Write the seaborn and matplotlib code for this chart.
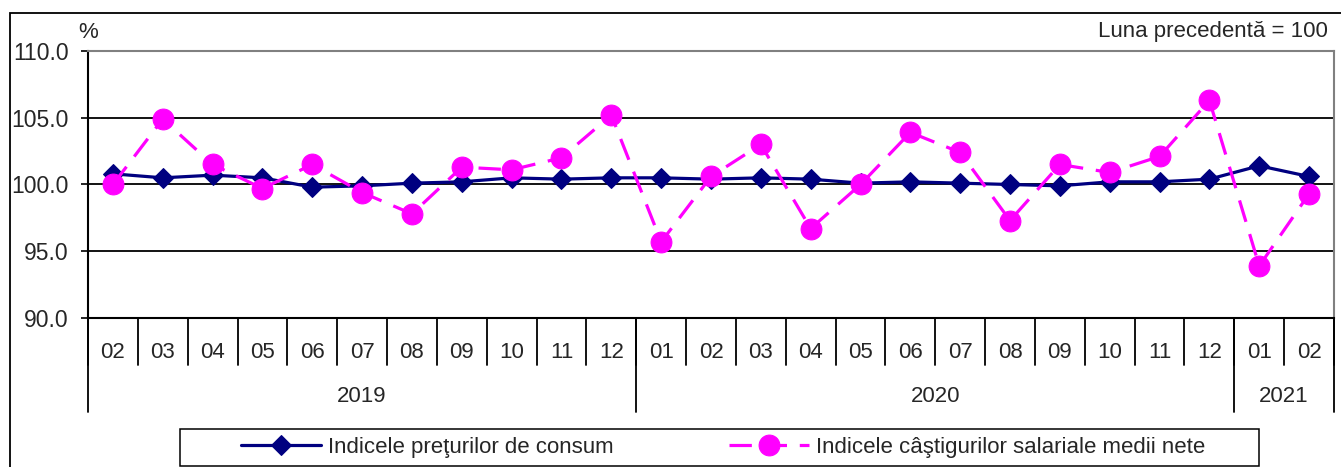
import matplotlib
matplotlib.use("Agg")
import matplotlib.pyplot as plt
from matplotlib.patches import Rectangle
import seaborn as sns
import pandas as pd
import numpy as np

# ---- data ----
months = ["02", "03", "04", "05", "06", "07", "08", "09", "10", "11", "12",
          "01", "02", "03", "04", "05", "06", "07", "08", "09", "10", "11", "12",
          "01", "02"]
years = ["2019", "2020", "2021"]
year_counts = [11, 12, 2]
cpi = [100.8, 100.5, 100.7, 100.5, 99.8, 99.9, 100.1, 100.2, 100.5, 100.4, 100.5,
       100.5, 100.4, 100.5, 100.4, 100.1, 100.2, 100.1, 100.0, 99.9, 100.2, 100.2, 100.4,
       101.4, 100.6]
wages = [100.0, 104.9, 101.5, 99.7, 101.5, 99.4, 97.8, 101.3, 101.1, 102.0, 105.2,
         95.7, 100.6, 103.0, 96.7, 100.0, 103.9, 102.4, 97.3, 101.5, 100.9, 102.1, 106.3,
         93.9, 99.3]
label_cpi = "Indicele preţurilor de consum"
label_wage = "Indicele câştigurilor salariale medii nete"
yticks = [90.0, 95.0, 100.0, 105.0, 110.0]

df = pd.DataFrame({"pos": np.arange(len(months)), "cpi": cpi, "wages": wages})

sns.set_style("white")
plt.rcParams["font.family"] = ["Liberation Sans", "DejaVu Sans"]

W, H = 1341, 467
fig = plt.figure(figsize=(W / 100, H / 100), dpi=100)
fig.patch.set_facecolor("white")

def fx(px):
    return px / W

def fy(py):
    return 1 - py / H

left, right, top, bottom = 88, 1334, 51, 318
ax = fig.add_axes([fx(left), fy(bottom), fx(right - left), (bottom - top) / H])

navy = "#000080"
magenta = "#FF00FF"

sns.lineplot(data=df, x="pos", y="cpi", ax=ax, color=navy, lw=2.3,
             marker="D", markersize=10, markeredgecolor=navy, markerfacecolor=navy,
             label=label_cpi, zorder=3)
sns.lineplot(data=df, x="pos", y="wages", ax=ax, color=magenta, lw=2.3,
             linestyle=(0, (7, 4)), marker="o", markersize=15,
             markeredgecolor=magenta, markerfacecolor=magenta,
             label=label_wage, zorder=4)

ax.set_xlim(-0.5, len(months) - 0.5)
ax.set_ylim(90, 110)
ax.set_yticks(yticks)
ax.set_yticklabels([f"{v:.1f}" for v in yticks], fontsize=16.5)
ax.tick_params(axis="y", direction="out", length=5, width=1.2, color="black", pad=9, left=True)
ax.set_xticks([])
ax.set_xlabel("")
ax.set_ylabel("")

for y in [95, 100, 105]:
    ax.axhline(y, color="black", lw=1.3, zorder=1)

for s in ["left", "bottom"]:
    ax.spines[s].set_color("black")
    ax.spines[s].set_linewidth(1.5)
for s in ["top", "right"]:
    ax.spines[s].set_color("#808080")
    ax.spines[s].set_linewidth(1.5)

# category axis (two levels)
trans = ax.get_xaxis_transform()
ah = bottom - top
def ay(py):
    return -(py - bottom) / ah

n = len(months)
for i in range(n + 1):
    ax.plot([i - 0.5, i - 0.5], [0, ay(365)], transform=trans, color="black",
            lw=1.3, clip_on=False)
for i, m in enumerate(months):
    ax.text(i, ay(352), m, transform=trans, ha="center", va="center", fontsize=16)

start = 0
bounds = [0]
for yr, c in zip(years, year_counts):
    end = start + c
    ax.text((start + end - 1) / 2, ay(397), yr, transform=trans, ha="center",
            va="center", fontsize=16)
    start = end
    bounds.append(end)
for b in bounds:
    ax.plot([b - 0.5, b - 0.5], [0, ay(412)], transform=trans, color="black",
            lw=1.3, clip_on=False)

# texts above plot
fig.text(fx(1328), fy(32), "Luna precedentă = 100", ha="right", va="center", fontsize=16)
fig.text(fx(78), fy(33), "%", ha="left", va="center", fontsize=16)

# legend
handles, labels = ax.get_legend_handles_labels()
if ax.get_legend() is not None:
    ax.get_legend().remove()
fig.legend(handles, labels, loc="center", bbox_to_anchor=(fx(723), fy(447)),
           ncol=2, frameon=False, fontsize=16, handlelength=3.6,
           handletextpad=0.32, columnspacing=5.18)
fig.add_artist(Rectangle((fx(180), fy(466)), fx(1259 - 180), (466 - 429) / H,
                         transform=fig.transFigure, fill=False, ec="black", lw=1.1))

# outer chart frame
fig.add_artist(Rectangle((fx(10), -0.1), 1.2, fy(13) + 0.1,
                         transform=fig.transFigure, fill=False, ec="black", lw=1.3))

fig.savefig("out.png", dpi=100)
